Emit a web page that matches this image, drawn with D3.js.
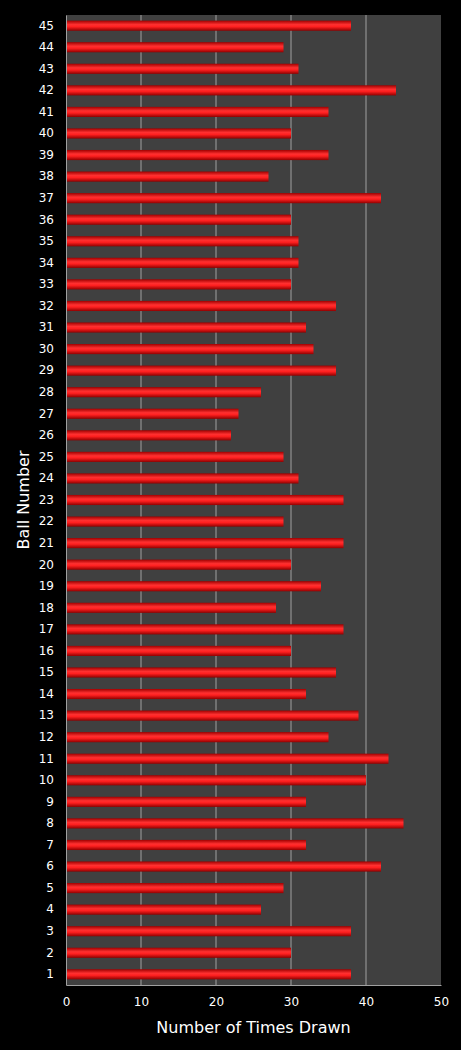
<!DOCTYPE html>
<html><head><meta charset="utf-8">
<script src="https://cdn.jsdelivr.net/npm/d3@7"></script>
<style>body{margin:0;background:#000}</style>
</head><body>
<svg id="c" width="461" height="1050"></svg>
<script>
const balls = d3.range(1, 46)
const timesDrawn = [38,30,38,26,29,42,32,45,32,40,43,35,39,32,36,30,37,28,34,30,37,29,37,31,29,22,23,26,36,33,32,36,30,31,31,30,42,27,35,30,35,44,31,29,38]
const xTicks = [0,10,20,30,40,50]

const svg = d3.select('#c')
const m = { left: 66, right: 20, top: 15, bottom: 65 }
const w = 461 - m.left - m.right, h = 1050 - m.top - m.bottom
const g = svg.append('g').attr('transform', `translate(${m.left},${m.top})`)

const x = d3.scaleLinear().domain([0, 50]).range([0, w])
const y = d3.scaleBand().domain(balls).range([h, 0]).paddingInner(0.53).paddingOuter(0.26)

const grad = svg.append('defs').append('linearGradient').attr('id', 'bar')
  .attr('x1', 0).attr('y1', 0).attr('x2', 0).attr('y2', 1)
grad.append('stop').attr('offset', '0%').attr('stop-color', '#a00000')
grad.append('stop').attr('offset', '40%').attr('stop-color', '#ff3030')
grad.append('stop').attr('offset', '60%').attr('stop-color', '#ff2020')
grad.append('stop').attr('offset', '100%').attr('stop-color', '#900000')

g.append('rect').attr('width', w).attr('height', h).attr('fill', '#404040')

g.selectAll('.grid').data(xTicks.slice(1, -1)).enter().append('line')
  .attr('x1', d => x(d)).attr('x2', d => x(d)).attr('y1', 0).attr('y2', h)
  .attr('stroke', '#a0a0a0').attr('stroke-width', 1)

g.selectAll('.bar').data(timesDrawn).enter().append('rect')
  .attr('x', 0).attr('y', (d, i) => y(balls[i]))
  .attr('width', d => x(d)).attr('height', y.bandwidth())
  .attr('fill', 'url(#bar)')

const xa = g.append('g').attr('transform', `translate(0,${h})`)
  .call(d3.axisBottom(x).tickValues(xTicks).tickSize(0).tickPadding(12))
const ya = g.append('g').call(d3.axisLeft(y).tickSize(0).tickPadding(12))
for (const a of [xa, ya]) {
  a.select('.domain').attr('stroke', '#a0a0a0')
  a.selectAll('text').attr('fill', '#fff').attr('font-family', 'DejaVu Sans').attr('font-size', 12)
}

svg.append('text').attr('x', m.left + w / 2).attr('y', 1033).attr('text-anchor', 'middle')
  .attr('fill', '#fff').attr('font-family', 'DejaVu Sans').attr('font-size', 16).text('Number of Times Drawn')
svg.append('text').attr('transform', `translate(29,${m.top + h / 2}) rotate(-90)`).attr('text-anchor', 'middle')
  .attr('fill', '#fff').attr('font-family', 'DejaVu Sans').attr('font-size', 16).text('Ball Number')
</script>
</body></html>
